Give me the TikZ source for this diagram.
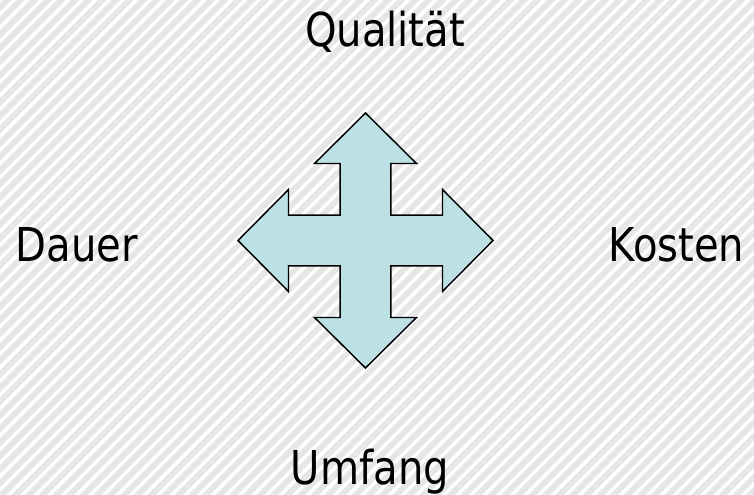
\documentclass[tikz,border=0pt]{standalone}
\usepackage{fontspec}
\setmainfont[FakeStretch=0.86]{DejaVu Sans}
\definecolor{hatchgray}{RGB}{230,230,230}
\definecolor{arrowfill}{RGB}{189,224,228}
\tikzset{
  label/.style={anchor=base, inner sep=0pt, font=\fontsize{35pt}{40pt}\selectfont, text=black},
  crossarrow/.style={draw=black, line width=1.1pt, fill=arrowfill, line join=miter},
  hatch/.style={draw=hatchgray, line width=4.4pt}
}
\begin{document}
\begin{tikzpicture}[x=0.75pt,y=-0.75pt]
\useasboundingbox (0,0) rectangle (754,495);
\fill[white] (0,0) rectangle (754,495);
\begin{scope}
\clip (0,0) rectangle (754,495);
\foreach \i in {-520,-506.4,...,760}{
  \draw[hatch] (\i,500) -- ++(520,-520);
}
\end{scope}
% cross arrow
\def\cx{365.5}\def\cy{240.5}
\def\a{25.3}\def\h{51}\def\b{77}\def\t{127.5}
\draw[crossarrow]
  (\cx,\cy-\t) -- (\cx+\h,\cy-\b) -- (\cx+\a,\cy-\b) -- (\cx+\a,\cy-\a)
  -- (\cx+\b,\cy-\a) -- (\cx+\b,\cy-\h) -- (\cx+\t,\cy) -- (\cx+\b,\cy+\h)
  -- (\cx+\b,\cy+\a) -- (\cx+\a,\cy+\a) -- (\cx+\a,\cy+\b) -- (\cx+\h,\cy+\b)
  -- (\cx,\cy+\t) -- (\cx-\h,\cy+\b) -- (\cx-\a,\cy+\b) -- (\cx-\a,\cy+\a)
  -- (\cx-\b,\cy+\a) -- (\cx-\b,\cy+\h) -- (\cx-\t,\cy) -- (\cx-\b,\cy-\h)
  -- (\cx-\b,\cy-\a) -- (\cx-\a,\cy-\a) -- (\cx-\a,\cy-\b) -- (\cx-\h,\cy-\b)
  -- cycle;
\node[label] (qual) at (385,47) {Qualität};
\node[label] (dauer) at (77,262) {Dauer};
\node[label] (kosten) at (676.5,262) {Kosten};
\node[label] (umfang) at (370,484) {Umfang};
\end{tikzpicture}
\end{document}
